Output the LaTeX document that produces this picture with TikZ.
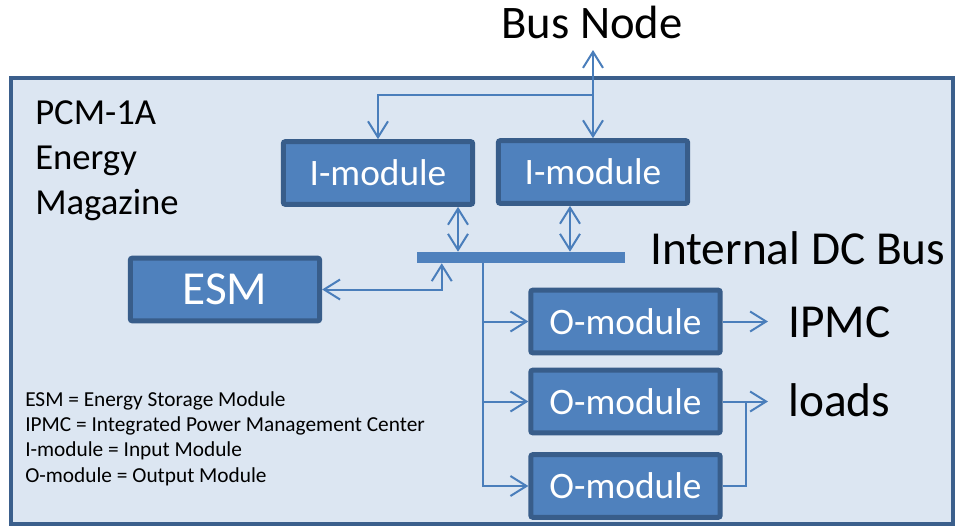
\documentclass[tikz,border=0pt]{standalone}
\usepackage{xcolor}
\usepackage{fontspec}
\setmainfont{Carlito}
\usepackage{tikz}
\usetikzlibrary{positioning,arrows.meta}

\definecolor{magfill}{HTML}{DCE6F2}
\definecolor{magborder}{HTML}{3B5F8C}
\definecolor{modfill}{HTML}{4F81BD}
\definecolor{modborder}{HTML}{385D8A}
\definecolor{wire}{HTML}{4A7EBB}

\tikzset{
  module/.style={draw=modborder, fill=modfill, line width=3.75pt, rounded corners=1.5pt,
    text=white, font=\fontsize{28}{32}\selectfont, minimum width=142pt, minimum height=47pt, inner sep=0pt},
  dcbus/.style={fill=modfill, minimum width=156pt, minimum height=8.25pt, inner sep=0pt},
  wireline/.style={draw=wire, line width=1.5pt},
  link/.style={wireline, -{Straight Barb[length=12pt,width=15pt,line width=1.5pt]}},
  dlink/.style={wireline, {Straight Barb[length=12pt,width=15pt,line width=1.5pt]}-{Straight Barb[length=12pt,width=15pt,line width=1.5pt]}},
  bigtext/.style={font=\fontsize{35.5}{40}\selectfont, anchor=base west, inner sep=0pt}
}

\begin{document}
\begin{tikzpicture}[x=0.75pt,y=-0.75pt]
\useasboundingbox (0,0) rectangle (955,526);

% energy magazine frame
\draw[draw=magborder, fill=magfill, line width=2.5pt] (11,78) rectangle (953,524);

\node[font=\fontsize{35}{40}\selectfont, anchor=base, inner sep=0pt] (busnode) at (592,38) {Bus Node};
\node[font=\fontsize{27.5}{34}\selectfont, anchor=north west, align=left, inner sep=0pt] (title) at (35,100) {PCM-1A\\Energy\\Magazine};

\node[module] (im1) at (378,173) {I-module};
\node[module] (im2) at (593,172) {I-module};
\node[module, font=\fontsize{35.5}{40}\selectfont] (esm) at (225,289.5) {ESM};
\node[dcbus] (bus) at (521,257.5) {};
\node[bigtext] (busname) at (650,264) {Internal DC Bus};

\node[module] (om1) at (625.5,321.5) {O-module};
\node[module] (om2) at (625.5,401.5) {O-module};
\node[module] (om3) at (625.5,486) {O-module};

\node[bigtext] (ipmc) at (788,337) {IPMC};
\node[bigtext] (loads) at (788,416) {loads};

\node[font=\fontsize{16}{19}\selectfont, anchor=north west, align=left, inner sep=0pt] (legend) at (25,391)
  {ESM = Energy Storage Module\\IPMC = Integrated Power Management Center\\I-module = Input Module\\O-module = Output Module};

% bus node feeds
\coordinate (bntip) at (593,50);
\coordinate (split) at (593,95);
\draw[dlink] (bntip) -- (im2.north);
\draw[link] (split) -| (im1.north);

% input modules to the internal bus
\draw[dlink] ([xshift=60pt]im1.south) -- ([xshift=60pt]im1.south |- bus.north);
\draw[dlink] ([xshift=-17.25pt]im2.south) -- ([xshift=-17.25pt]im2.south |- bus.north);
\draw[dlink] (esm.east) -| ([xshift=18.75pt]bus.south west);

% output modules
\draw[link] ([xshift=49.5pt]bus.south west) |- (om1.west);
\draw[link] ([xshift=49.5pt]bus.south west) |- (om2.west);
\draw[link] ([xshift=49.5pt]bus.south west) |- (om3.west);
\draw[link, shorten >=15pt] (om1.east) -- (om1.east -| ipmc.west);
\draw[link, shorten >=15pt] (om2.east) -- (om2.east -| loads.west);
\draw[wireline] (om3.east) -| ([xshift=17.25pt]om2.east);
\end{tikzpicture}
\end{document}
